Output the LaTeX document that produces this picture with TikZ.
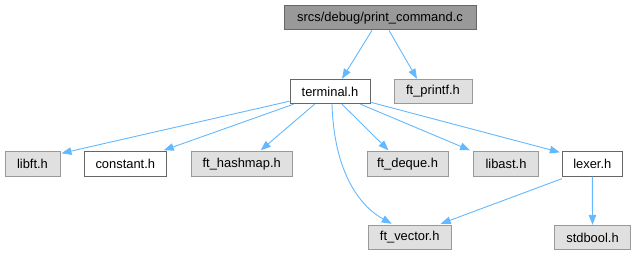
\documentclass[tikz,border=0pt]{standalone}
\usepackage{fontspec}
\setmainfont{Liberation Sans}
\usetikzlibrary{arrows.meta,calc}
\definecolor{edgeblue}{HTML}{63B8FF}
\definecolor{hdrfill}{HTML}{999999}
\definecolor{hdrdraw}{HTML}{666666}
\definecolor{extfill}{HTML}{E0E0E0}
\definecolor{extdraw}{HTML}{999999}
\begin{document}
\begin{tikzpicture}[x=1pt,y=-1pt,
  box/.style={rectangle,inner sep=0pt,minimum height=24.5pt,line width=0.9pt,
    font=\fontsize{12.9}{15}\selectfont,text=black},
  mainbox/.style={box,fill=hdrfill,draw=hdrdraw},
  localbox/.style={box,fill=white,draw=hdrdraw},
  extbox/.style={box,fill=extfill,draw=extdraw},
  dep/.style={draw=edgeblue,line width=0.9pt,
    -{Triangle[length=10pt,width=7.5pt,fill=edgeblue]}}]
\useasboundingbox (0,0) rectangle (635,256);

% files
\node[mainbox,minimum width=192pt] (top) at (380,17.7) {srcs/debug/print\_command.c};
\node[localbox,minimum width=80pt] (terminal) at (330,91.5) {terminal.h};
\node[extbox,minimum width=78pt] (ftprintf) at (433,91.5) {ft\_printf.h};
\node[extbox,minimum width=55pt] (libft) at (32.5,164) {libft.h};
\node[localbox,minimum width=82pt] (constant) at (125.3,164) {constant.h};
\node[extbox,minimum width=101pt] (hashmap) at (241.7,164) {ft\_hashmap.h};
\node[extbox,minimum width=81pt] (deque) at (407.5,164) {ft\_deque.h};
\node[extbox,minimum width=65pt] (libast) at (506,164) {libast.h};
\node[localbox,minimum width=60pt] (lexer) at (592.3,164) {lexer.h};
\node[extbox,minimum width=82.7pt] (vector) at (409.7,237.5) {ft\_vector.h};
\node[extbox,minimum width=76.5pt] (stdbool) at (592.5,237.5) {stdbool.h};

% include edges
\draw[dep] ($(top.south)+(-8,0)$) -- ($(terminal.north)+(12,0)$);
\draw[dep] ($(top.south)+(9,0)$) -- ($(ftprintf.north)+(-16,0)$);
\draw[dep] ($(terminal.south west)+(0,-3)$) -- ($(libft.north east)+(1,2)$);
\draw[dep] ($(terminal.south west)+(4,0)$) -- ($(constant.north east)+(-3,-1)$);
\draw[dep] ($(terminal.south west)+(25,0)$) -- ($(hashmap.north)+(19,-1)$);
\draw[dep] ($(terminal.south)+(12,0)$) -- ($(deque.north)+(-19,-1)$);
\draw[dep] ($(terminal.south east)+(-10,0)$) -- ($(libast.north west)+(-3,-1)$);
\draw[dep] ($(terminal.south east)+(0,-2)$) -- ($(lexer.north west)+(-2,1)$);
\draw[dep] ($(terminal.south)+(2,0)$) .. controls (334,170) and (358,205) .. ($(vector.north)+(-18,-1)$);
\draw[dep] ($(lexer.south west)+(0,2)$) -- ($(vector.north)+(31,-1)$);
\draw[dep] (lexer.south) -- (stdbool.north);
\end{tikzpicture}
\end{document}
